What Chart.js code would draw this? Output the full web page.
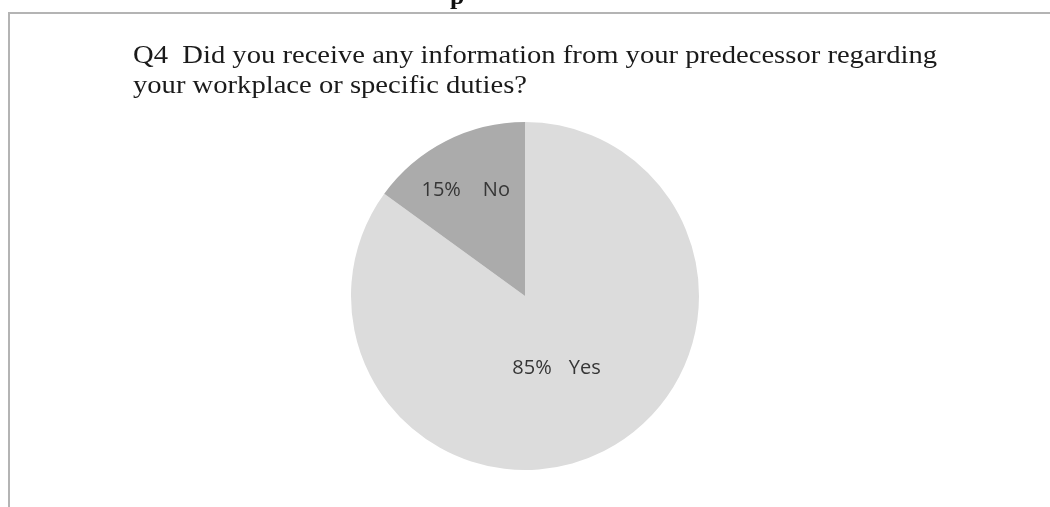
<!DOCTYPE html>
<html>
<head>
<meta charset="utf-8">
<title>Q4 predecessor information</title>
<script src="https://cdn.jsdelivr.net/npm/chart.js@4/dist/chart.umd.min.js"></script>
<style>
    html, body { margin: 0; padding: 0; background: #fff; }
    #wrap { position: relative; width: 1050px; height: 507px; }
</style>
</head>
<body>
<div id="wrap"><canvas id="q4-chart" width="1050" height="507"></canvas></div>
<script>
var answer_labels = ['Yes', 'No'];
var answer_percents = [85, 15];
var question_lines = [
    'Q4  Did you receive any information from your predecessor regarding',
    'your workplace or specific duties?'
];

var q4_chart = null;

// frame, question text and the cut off heading from the page above
var pageDecor = {
    id: 'pageDecor',
    beforeDraw: function (chart) {
        var ctx = chart.ctx;
        ctx.save();
        ctx.strokeStyle = '#b4b4b4';
        ctx.lineWidth = 2;
        ctx.beginPath();
        ctx.moveTo(9, 507);
        ctx.lineTo(9, 13);
        ctx.lineTo(1050, 13);
        ctx.stroke();

        ctx.fillStyle = '#111';
        ctx.font = 'bold 26px "Liberation Serif"';
        ctx.textBaseline = 'alphabetic';
        ctx.fillText('p', 450, 4);

        // the question is set in a slightly wide serif, stretch it a little
        ctx.fillStyle = '#1a1a1a';
        ctx.font = '25px "Liberation Serif"';
        var sx = 804 / ctx.measureText(question_lines[0]).width;
        for (var i = 0; i < question_lines.length; i++) {
            ctx.save();
            ctx.translate(133, 63 + i * 30);
            ctx.scale(sx, 1);
            ctx.fillText(question_lines[i], 0, 0);
            ctx.restore();
        }
        ctx.restore();
    }
};

// "85%  Yes" style labels placed inside each slice
var sliceLabels = {
    id: 'sliceLabels',
    afterDatasetsDraw: function (chart, args, opts) {
        var ctx = chart.ctx;
        var meta = chart.getDatasetMeta(0);
        var total = answer_percents.reduce(function (a, b) { return a + b; }, 0);
        ctx.save();
        ctx.fillStyle = '#363636';
        ctx.font = '20px "Open Sans"';
        ctx.textAlign = 'left';
        ctx.textBaseline = 'middle';
        meta.data.forEach(function (arc, i) {
            var p = arc.getProps(['x', 'y', 'startAngle', 'endAngle', 'outerRadius']);
            var mid = (p.startAngle + p.endAngle) / 2;
            var r = p.outerRadius * opts.radius[i];
            var pct = Math.round(answer_percents[i] / total * 100) + '%';
            var w1 = ctx.measureText(pct).width;
            var w2 = ctx.measureText(answer_labels[i]).width;
            var gap = opts.gap[i];
            var x0 = p.x + Math.cos(mid) * r - (w1 + gap + w2) / 2 - 4;
            var y0 = p.y + Math.sin(mid) * r + 3;
            ctx.fillText(pct, x0, y0);
            ctx.fillText(answer_labels[i], x0 + w1 + gap, y0);
        });
        ctx.restore();
    }
};

function draw_q4_chart() {
    var ctx = document.getElementById('q4-chart').getContext('2d');
    if (q4_chart != null) {
        q4_chart.destroy()
    }
    q4_chart = new Chart(ctx, {
        type: 'pie',
        data: {
            labels: answer_labels,
            datasets: [{
                data: answer_percents,
                backgroundColor: ['#dcdcdc', '#ababab'],
                borderWidth: 0
            }]
        },
        options: {
            responsive: false,
            animation: false,
            layout: {
                padding: { top: 122, bottom: 37, left: 0, right: 0 }
            },
            plugins: {
                legend: { display: false },
                tooltip: { enabled: false },
                sliceLabels: { radius: [0.45, 0.70], gap: [17, 22] }
            }
        },
        plugins: [pageDecor, sliceLabels]
    });
}

draw_q4_chart();
</script>
</body>
</html>
